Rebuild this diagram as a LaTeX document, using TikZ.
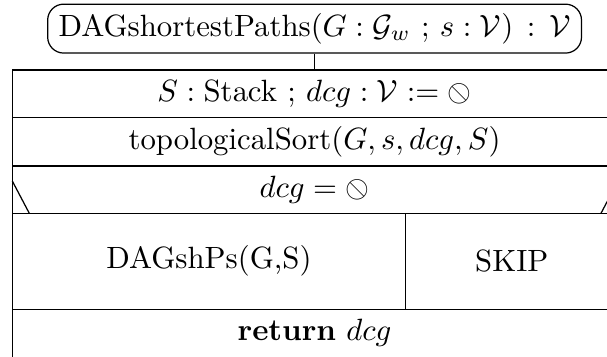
\documentclass[tikz,border=0pt]{standalone}
\usepackage{stmaryrd}
\begin{document}
\begin{tikzpicture}[x=0.325pt,y=-0.325pt,
  box/.style={line width=0.4pt},
  titlebox/.style={draw, line width=0.4pt, rounded corners=5.2pt, minimum width=173.5pt, minimum height=15.9pt, inner sep=0pt},
  lbl/.style={inner sep=0pt}]
\useasboundingbox (0,0) rectangle (607,356);
\clip (0,0) rectangle (607,356);
% title
\node[titlebox] (title) at (314.6,28.6) {DAGshortestPaths$(G:\mathcal{G}_w\ \mathord{;}\ s:\mathcal{V})\,:\,\mathcal{V}$\hspace{4.2pt}};
\coordinate (top) at (314.6,70);
\draw[box] (title.south) -- (top);
% outer frame
\coordinate (tl) at (12.3,70);
\coordinate (tr) at (618,70);
\coordinate (bl) at (12.3,360);
\coordinate (br) at (618,360);
\draw[box] (bl) -- (tl) -- (tr) -- (br);
% row lines
\draw[box] (12.3,117.7) -- (618,117.7);
\draw[box] (12.3,166) -- (618,166);
\draw[box] (12.3,213.3) -- (618,213.3);
\draw[box] (12.3,309.3) -- (618,309.3);
% condition diagonals
\draw[box] (12.3,181) -- (29.3,213.3);
\draw[box] (618,181) -- (601,213.3);
% branch split
\draw[box] (405.7,213.3) -- (405.7,309.3);
% texts
\node[lbl] (decl) at (314.6,94) {$S:\mathrm{Stack}\ \mathord{;}\ dcg:\mathcal{V}:=\obslash$};
\node[lbl] (topo) at (314.6,142) {topologicalSort$(G,s,dcg,S)$};
\node[lbl] (cond) at (314.6,189.5) {$dcg=\obslash$};
\node[lbl] (yes) at (209,261.3) {DAGshPs(G,S)};
\node[lbl] (no) at (511.8,261.3) {SKIP};
\node[lbl] (ret) at (314.6,333) {\textbf{return} $dcg$};
\end{tikzpicture}
\end{document}
